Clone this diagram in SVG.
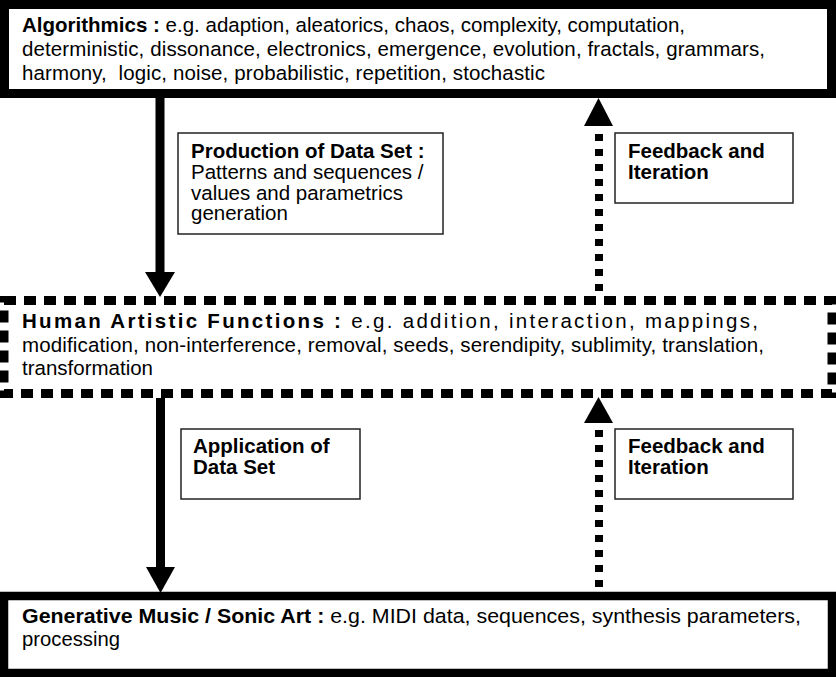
<svg xmlns="http://www.w3.org/2000/svg" width="836" height="677" viewBox="0 0 836 677">
<style>
text{font-family:"Liberation Sans",Arial,sans-serif;fill:#000;font-size:20.5px}
.b{font-weight:bold}
.main{fill:#fff;stroke:#000}
.lab{fill:#fff;stroke:#222;stroke-width:1.5}
.solid{stroke:#000;stroke-width:9;fill:none}
.dot{stroke:#000;stroke-width:8;fill:none;stroke-dasharray:7 8}
.head{fill:#000}
</style>
<rect width="836" height="677" fill="#fff"/>
<g id="algorithmics">
<rect class="main" x="4.5" y="4.5" width="827" height="89" stroke-width="9"/>
<text x="22" y="32" textLength="663" lengthAdjust="spacing"><tspan class="b">Algorithmics :</tspan> e.g. adaption, aleatorics, chaos, complexity, computation,</text>
<text x="22" y="56" textLength="743" lengthAdjust="spacing">deterministic, dissonance, electronics, emergence, evolution, fractals, grammars,</text>
<text x="22" y="80" textLength="523" lengthAdjust="spacing" xml:space="preserve">harmony,  logic, noise, probabilistic, repetition, stochastic</text>
</g>
<g id="human">
<rect class="main" x="4" y="300.5" width="828" height="93" stroke-width="9" stroke-dasharray="12 8"/>
<text x="22" y="328" textLength="736" lengthAdjust="spacing"><tspan class="b">Human Artistic Functions :</tspan> e.g. addition, interaction, mappings,</text>
<text x="22" y="352" textLength="742" lengthAdjust="spacing">modification, non-interference, removal, seeds, serendipity, sublimity, translation,</text>
<text x="22" y="375" textLength="131" lengthAdjust="spacing">transformation</text>
</g>
<g id="generative">
<rect class="main" x="4" y="596" width="828" height="77" stroke-width="8.5"/>
<text x="22" y="623" textLength="779" lengthAdjust="spacingAndGlyphs"><tspan class="b">Generative Music / Sonic Art :</tspan> e.g. MIDI data, sequences, synthesis parameters,</text>
<text x="22" y="646" textLength="98" lengthAdjust="spacingAndGlyphs">processing</text>
</g>
<g id="production">
<rect class="lab" x="178" y="133" width="265" height="101"/>
<text class="b" x="191" y="158">Production of Data Set :</text>
<text x="191" y="179">Patterns and sequences /</text>
<text x="191" y="200">values and parametrics</text>
<text x="191" y="220">generation</text>
</g>
<g id="feedback1">
<rect class="lab" x="615" y="133" width="178" height="70"/>
<text class="b" x="628" y="158">Feedback and</text>
<text class="b" x="628" y="179">Iteration</text>
</g>
<g id="application">
<rect class="lab" x="181" y="429" width="179" height="70"/>
<text class="b" x="193" y="453">Application of</text>
<text class="b" x="193" y="474">Data Set</text>
</g>
<g id="feedback2">
<rect class="lab" x="615" y="429" width="178" height="70"/>
<text class="b" x="628" y="453">Feedback and</text>
<text class="b" x="628" y="474">Iteration</text>
</g>
<g id="connectors">
<path class="solid" d="M160 98V273"/>
<polygon class="head" points="145,272 175,272 160,297"/>
<path class="dot" d="M599 134V297"/>
<polygon class="head" points="584,126 613,126 598.5,98"/>
<path class="solid" d="M160.5 398V568"/>
<polygon class="head" points="146,567 175,567 160.5,593"/>
<path class="dot" d="M599 430V596"/>
<polygon class="head" points="584,423 613,423 598.5,397"/>
</g>
</svg>
